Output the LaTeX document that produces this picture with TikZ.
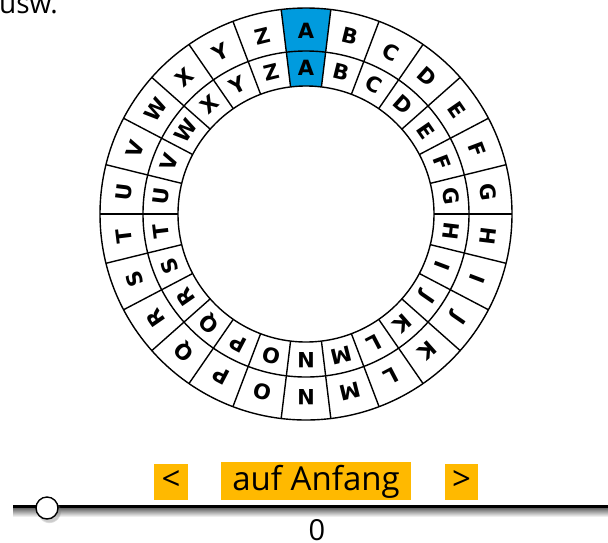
\documentclass[tikz,border=0pt]{standalone}
\usepackage{fontspec}
\setmainfont{Open Sans}
\newfontfamily\wheelfont{DejaVu Sans}
\usetikzlibrary{shadows}
\definecolor{segblue}{RGB}{0,155,222}
\definecolor{btnorange}{RGB}{255,185,0}
\begin{document}
\begin{tikzpicture}[x=1pt,y=1pt,
  letter/.style={font=\fontsize{21}{21}\wheelfont\bfseries\selectfont, inner sep=0pt},
  ringline/.style={line width=1.4pt},
  button/.style={fill=btnorange, inner sep=0pt, anchor=base, font=\fontsize{33}{33}\selectfont, text depth=10pt},
  plain/.style={inner sep=0pt}]
\useasboundingbox (0,0) rectangle (608,-542);
\coordinate (c) at (306,-214);
% highlighted cell
\fill[segblue] ([shift={(96.923:128)}]c) arc[start angle=96.923, end angle=83.077, radius=128]
  -- ([shift={(83.077:206)}]c) arc[start angle=83.077, end angle=96.923, radius=206] -- cycle;
% rings
\draw[ringline] (c) circle[radius=206];
\draw[ringline] (c) circle[radius=163];
\draw[ringline] (c) circle[radius=128];
\foreach \i in {0,...,25}{
  \pgfmathsetmacro\b{90+180/26-\i*360/26}
  \draw[ringline] ([shift={(\b:128)}]c) -- ([shift={(\b:206)}]c);
}
% letters
\foreach \l [count=\i from 0] in {A,B,C,D,E,F,G,H,I,J,K,L,M,N,O,P,Q,R,S,T,U,V,W,X,Y,Z}{
  \pgfmathsetmacro\a{90-\i*360/26}
  \pgfmathsetmacro\r{\a-90}
  \node[letter, rotate=\r] (o\i) at ([shift={(\a:183)}]c) {\l};
  \node[letter, rotate=\r] (n\i) at ([shift={(\a:146)}]c) {\l};
}
% top-left text
\node[plain, anchor=base west, font=\fontsize{28}{28}\selectfont] (usw) at (-1,-13) {usw.};
% buttons
\node[button, minimum width=34pt, text height=26pt] (prev) at (171,-490) {<};
\node[button, minimum width=190pt, text height=28pt] (reset) at (316,-490) {auf Anfang};
\node[button, minimum width=33pt, text height=26pt] (next) at (461.5,-490) {>};
% slider
\coordinate (sl) at (13,-506.5);
\coordinate (sr) at (608,-506.5);
\shade[top color=black!60, bottom color=white] (13,-508) rectangle (608,-517);
\draw[line width=3pt] (sl) -- (sr);
\node[circle, draw, line width=1.4pt, fill=white, minimum size=22pt, inner sep=0pt,
  circular drop shadow={shadow xshift=2pt, shadow yshift=-3pt, opacity=0.4}] (knob) at (47,-508) {};
\node[plain, anchor=base, font=\fontsize{29}{29}\selectfont] (val) at (317,-540) {0};
\end{tikzpicture}
\end{document}
